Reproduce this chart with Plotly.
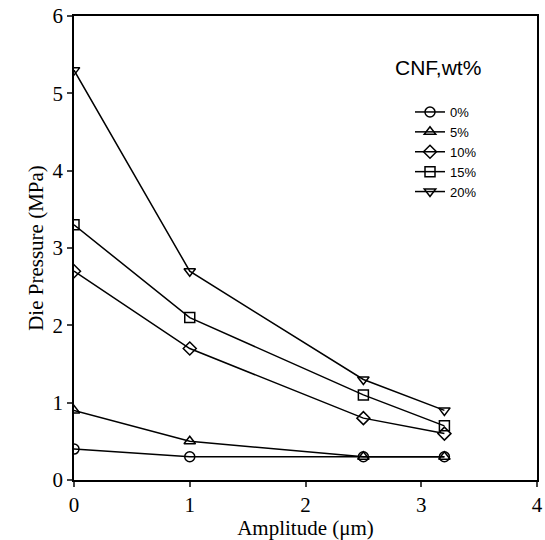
import plotly.graph_objects as go

amplitude = [0, 1, 2.5, 3.2]
series_names = ["0%", "5%", "10%", "15%", "20%"]
p0 = [0.4, 0.3, 0.3, 0.3]
p5 = [0.9, 0.5, 0.3, 0.3]
p10 = [2.7, 1.7, 0.8, 0.6]
p15 = [3.3, 2.1, 1.1, 0.7]
p20 = [5.3, 2.7, 1.3, 0.9]
values = [p0, p5, p10, p15, p20]
symbols = ["circle-open", "triangle-up-open", "diamond-open", "square-open", "triangle-down-open"]

fig = go.Figure()
for name, ys, sym in zip(series_names, values, symbols):
    fig.add_trace(go.Scatter(
        x=amplitude, y=ys, name=name, mode="lines+markers",
        line=dict(color="black", width=1.5),
        marker=dict(symbol=sym, size=10, color="black", line=dict(width=1.5, color="black")),
    ))

fig.add_annotation(text="CNF,wt%", xref="paper", yref="paper", x=(393 - 74) / 463, y=(480 - 68) / 464,
                   xanchor="left", yanchor="middle", showarrow=False,
                   font=dict(family="Liberation Sans", size=21, color="black"))

fig.update_layout(
    width=545, height=540,
    margin=dict(l=74, r=8, t=16, b=60),
    paper_bgcolor="white", plot_bgcolor="white",
    showlegend=True,
    legend=dict(x=(410 - 74) / 463, y=(480 - 97) / 464, xanchor="left", yanchor="top",
                font=dict(family="Liberation Sans", size=13, color="black"),
                bgcolor="rgba(0,0,0,0)", itemwidth=30, tracegroupgap=0),
    font=dict(family="Liberation Serif", color="black"),
)
fig.update_xaxes(range=[0, 4], tickvals=[0, 1, 2, 3, 4], ticks="outside", ticklen=5,
                 tickwidth=1.5, linecolor="black", linewidth=1.5, mirror=True,
                 showgrid=False, zeroline=False, tickfont=dict(size=21), automargin=False,
                 title=dict(text="Amplitude (μm)", font=dict(size=21), standoff=4))
fig.update_yaxes(range=[0, 6], tickvals=[0, 1, 2, 3, 4, 5, 6], ticks="outside", ticklen=5,
                 tickwidth=1.5, linecolor="black", linewidth=1.5, mirror=True,
                 showgrid=False, zeroline=False, tickfont=dict(size=21), automargin=False,
                 title=dict(text="Die Pressure (MPa)", font=dict(size=21), standoff=3))

fig.write_html("out.html")
